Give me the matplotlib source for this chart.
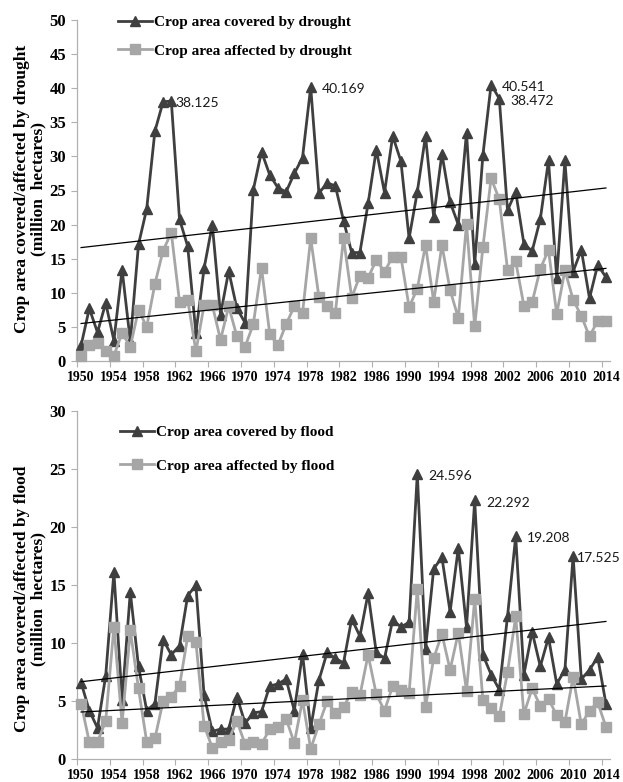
import numpy as np
import matplotlib
matplotlib.use("Agg")
import matplotlib.pyplot as plt
from matplotlib.ticker import FixedLocator

years = list(range(1950, 2015))

drought_covered = [
    2.3, 7.7, 4.2, 8.5, 3.0, 13.4, 2.9, 17.1, 22.3, 33.7,
    38.0, 38.125, 20.8, 16.8, 4.1, 13.6, 20.0, 6.8, 13.2, 7.7,
    5.6, 25.1, 30.7, 27.3, 25.4, 24.8, 27.5, 29.8, 40.169, 24.6,
    26.1, 25.7, 20.6, 15.9, 15.9, 23.1, 31.0, 24.7, 33.0, 29.3,
    18.0, 24.8, 33.0, 21.1, 30.4, 23.3, 20.0, 33.5, 14.2, 30.2,
    40.541, 38.472, 22.1, 24.8, 17.2, 16.1, 20.8, 29.4, 12.2, 29.4,
    13.1, 16.3, 9.2, 14.1, 12.3,
]
drought_affected = [
    0.8, 2.4, 2.7, 1.5, 0.8, 4.1, 2.1, 7.5, 5.0, 11.3,
    16.2, 18.8, 8.7, 9.0, 1.4, 8.2, 8.2, 3.1, 8.0, 3.6,
    2.1, 5.4, 13.7, 4.0, 2.3, 5.4, 8.0, 7.0, 18.0, 9.4,
    8.0, 7.0, 18.0, 9.3, 12.5, 12.2, 14.8, 13.1, 15.3, 15.3,
    7.9, 10.6, 17.0, 8.7, 17.0, 10.4, 6.3, 20.1, 5.1, 16.7,
    26.8, 23.7, 13.4, 14.6, 8.1, 8.6, 13.5, 16.3, 6.9, 13.3,
    9.0, 6.6, 3.6, 5.9, 5.8,
]
flood_covered = [
    6.6, 4.2, 2.7, 7.2, 16.1, 5.1, 14.4, 8.0, 4.2, 4.8,
    10.3, 9.0, 9.8, 14.1, 15.0, 5.5, 2.4, 2.6, 2.6, 5.4,
    3.1, 4.0, 4.1, 6.3, 6.5, 6.9, 4.2, 9.1, 2.7, 6.8,
    9.2, 8.7, 8.3, 12.1, 10.6, 14.3, 9.2, 8.7, 12.0, 11.4,
    11.8, 24.596, 9.5, 16.4, 17.4, 12.7, 18.2, 11.4, 22.292, 9.0,
    7.3, 6.0, 12.3, 19.208, 7.3, 11.0, 8.0, 10.5, 6.5, 7.7,
    17.525, 6.9, 7.7, 8.8, 4.8,
]
flood_affected = [
    4.8, 1.5, 1.5, 3.3, 11.4, 3.1, 11.1, 6.1, 1.5, 1.8,
    5.0, 5.4, 6.3, 10.6, 10.1, 2.9, 1.0, 1.5, 1.7, 3.3,
    1.3, 1.5, 1.3, 2.6, 2.8, 3.5, 1.4, 5.1, 0.9, 3.0,
    5.0, 4.0, 4.5, 5.8, 5.5, 9.0, 5.6, 4.2, 6.3, 6.0,
    5.7, 14.7, 4.5, 8.7, 10.8, 7.7, 10.9, 5.9, 13.8, 5.1,
    4.4, 3.7, 7.5, 12.3, 3.9, 6.1, 4.6, 5.2, 3.8, 3.2,
    7.1, 3.0, 4.2, 4.9, 2.8,
]

drought_labels = ["Crop area covered by drought", "Crop area affected by drought"]
flood_labels = ["Crop area covered by flood", "Crop area affected by flood"]
drought_ylabel = "Crop area covered/affected by drought\n(million  hectares)"
flood_ylabel = "Crop area covered/affected by flood\n(million  hectares)"

# peaks that carry a value label: (year, x-offset in points)
drought_peaks = [(1961, 3), (1978, 8), (2000, 8), (2001, 8)]
flood_peaks = [(1991, 8), (1998, 8), (2003, 8), (2010, 3)]

year_labels = list(range(1950, 2015, 4))

DARK = "#3f3f3f"
LIGHT = "#a6a6a6"
AXIS = "#b0b0b0"
SERIF = "Liberation Serif"

plt.rcParams["font.family"] = SERIF
plt.rcParams["font.weight"] = "bold"

W, H = 623, 782
fig = plt.figure(figsize=(W / 100, H / 100), dpi=100)
fig.patch.set_facecolor("white")

ax_top = fig.add_axes([77 / W, 1 - 361 / H, 533 / W, 341 / H])
ax_bot = fig.add_axes([77 / W, 1 - 759.3 / H, 533 / W, 348.3 / H])


def draw_panel(ax, covered, affected, labels, ymax, ylabel, peaks,
               legend_anchor, legend_spacing, ylabel_y):
    x = np.array(years, dtype=float)
    yc = np.array(covered, dtype=float)
    ya = np.array(affected, dtype=float)

    ax.plot(x, yc, color=DARK, lw=2.0, marker="^", ms=7, mfc=DARK, mec=DARK,
            label=labels[0], zorder=3, clip_on=False)
    ax.plot(x, ya, color=LIGHT, lw=2.0, marker="s", ms=6.5, mfc=LIGHT, mec=LIGHT,
            label=labels[1], zorder=4, clip_on=False)

    # linear trend lines over the full period
    for series in (yc, ya):
        k, b = np.polyfit(x, series, 1)
        ax.plot([x[0], x[-1]], [k * x[0] + b, k * x[-1] + b],
                color="black", lw=0.9, zorder=5)

    for yr, dx in peaks:
        v = covered[years.index(yr)]
        ax.annotate(f"{v:.3f}", xy=(yr, v), xytext=(dx, -1.5),
                    textcoords="offset points", ha="left", va="center",
                    fontsize=10, family="Lato", fontweight="normal",
                    color="#1a1a1a", zorder=6)

    ax.set_xlim(1949.5, 2014.5)
    ax.set_ylim(0, ymax)

    ax.xaxis.set_major_locator(FixedLocator(year_labels))
    ax.set_xticklabels([str(y) for y in year_labels])
    ax.xaxis.set_minor_locator(FixedLocator(np.arange(1949.5, 2015, 4)))
    ax.tick_params(axis="x", which="major", length=0, pad=7, labelsize=10)
    ax.tick_params(axis="x", which="minor", length=4, width=0.8,
                   color=AXIS, direction="out")
    ax.set_yticks(np.arange(0, ymax + 1, 5))
    ax.tick_params(axis="y", length=4, width=0.8, color=AXIS,
                   direction="out", pad=4, labelsize=12)

    for side in ("top", "right"):
        ax.spines[side].set_visible(False)
    for side in ("left", "bottom"):
        ax.spines[side].set_color(AXIS)
        ax.spines[side].set_linewidth(0.9)

    ax.text(-47 / 533, ylabel_y, ylabel, transform=ax.transAxes,
            rotation=90, ha="center", va="center", multialignment="center",
            fontsize=12.5, fontweight="bold", linespacing=1.0)

    ax.legend(loc="upper left", bbox_to_anchor=legend_anchor, frameon=False,
              borderpad=0, borderaxespad=0, handlelength=2.2,
              handletextpad=0.15, labelspacing=legend_spacing,
              prop={"family": SERIF, "weight": "bold", "size": 11})


draw_panel(ax_top, drought_covered, drought_affected, drought_labels, 50,
           drought_ylabel, drought_peaks, (0.077, 1.013), 0.96, 0.504)
draw_panel(ax_bot, flood_covered, flood_affected, flood_labels, 30,
           flood_ylabel, flood_peaks, (0.0807, 0.958), 1.29, 0.46)

fig.savefig("out.png", dpi=100, facecolor="white")
